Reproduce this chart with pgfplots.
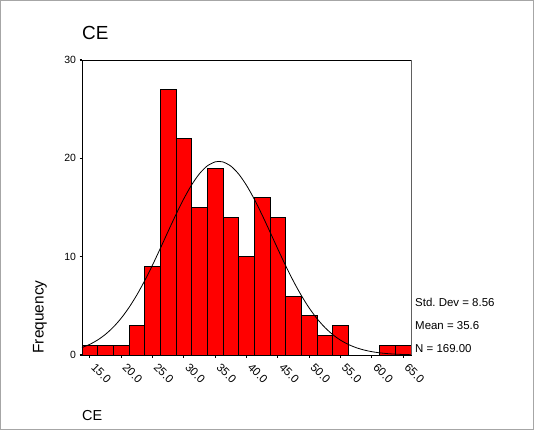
\documentclass[border=0pt]{standalone}
\usepackage{pgfplots}
\pgfplotsset{compat=1.18}
\usepackage{pgfplotstable}
\usepackage{fontspec}
\setmainfont{Liberation Sans}
\frenchspacing
\pgfplotstableread{
x y
15 1
17.5 1
20 1
22.5 3
25 9
27.5 27
30 22
32.5 15
35 19
37.5 14
40 10
42.5 16
45 14
47.5 6
50 4
52.5 2
55 3
62.5 1
65 1
}\histdata
\pgfplotstableread{
x y
13.75 0.757
15 1.088
16.25 1.530
17.5 2.106
18.75 2.838
20 3.742
21.25 4.831
22.5 6.105
23.75 7.553
25 9.147
26.25 10.844
27.5 12.584
28.75 14.296
30 15.897
31.25 17.305
32.5 18.440
33.75 19.236
35 19.642
35.6 19.690
36.25 19.633
37.5 19.211
38.75 18.401
40 17.253
41.25 15.836
42.5 14.228
43.75 12.515
45 10.775
46.25 9.080
47.5 7.492
48.75 6.051
50 4.783
51.25 3.702
52.5 2.805
53.75 2.080
55 1.509
56.25 1.073
57.5 0.746
58.75 0.508
60 0.339
61.25 0.221
62.5 0.141
63.75 0.088
65 0.054
66.25 0.032
}\normdata
\begin{document}
\begin{tikzpicture}[x=1bp,y=1bp]
\useasboundingbox (0,0) rectangle (534,430);
\draw[gray!70, line width=0.6bp] (0.5,0.5) rectangle (533.5,429.5);
\node[anchor=base west, font=\fontsize{19}{21}\selectfont, inner sep=0pt] at (82,390) {CE};
\node[anchor=base west, font=\fontsize{14.5}{16}\selectfont, inner sep=0pt] at (82,10) {CE};
\node[rotate=90, font=\fontsize{15.5}{17}\selectfont, inner sep=0pt] at (40,113) {Frequency};
\node[anchor=base west, font=\fontsize{11.5}{13}\selectfont, inner sep=0pt] at (415,124) {Std.\ Dev = 8.56};
\node[anchor=base west, font=\fontsize{11.5}{13}\selectfont, inner sep=0pt] at (415,101) {Mean = 35.6};
\node[anchor=base west, font=\fontsize{11.5}{13}\selectfont, inner sep=0pt] at (415,78) {N = 169.00};
\begin{axis}[
  at={(82bp,75bp)}, anchor=south west,
  scale only axis, width=329bp, height=295bp,
  xmin=13.75, xmax=66.25, ymin=0, ymax=30,
  axis line style={black, line width=0.8bp},
  xtick={15,20,25,30,35,40,45,50,55,60,65},
  ytick={0,10,20,30},
  tick align=outside,
  major tick length=2.5bp,
  tick style={black, line width=1.3bp},
  xtick pos=bottom, ytick pos=left,
  /pgf/number format/assume math mode=true,
  xticklabel={\pgfmathprintnumber[fixed,precision=1,zerofill]{\tick}},
  xticklabel style={rotate=-45, anchor=north west, font=\fontsize{11.5}{13}\selectfont, inner sep=1bp, xshift=7bp, yshift=2bp},
  yticklabel style={font=\fontsize{10.5}{12}\selectfont},
  clip=false,
]
\addplot[ybar, bar width=2.5, bar shift=0pt, fill=red, draw=black, line width=0.8bp] table[x=x,y=y] {\histdata};
\addplot[black, line width=0.8bp, smooth, mark=none] table[x=x,y=y] {\normdata};
\draw[gray!75!black, line width=1bp] (rel axis cs:1,0) -- (rel axis cs:1,1);
\end{axis}
\end{tikzpicture}
\end{document}
